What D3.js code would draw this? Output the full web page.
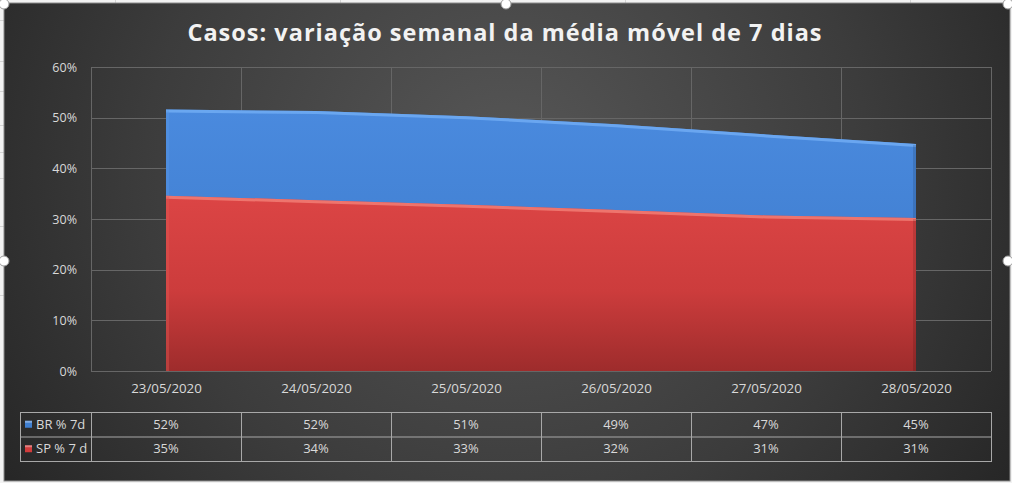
<!DOCTYPE html>
<html><head><meta charset="utf-8">
<script src="https://cdn.jsdelivr.net/npm/d3@7"></script>
<style>
html,body{margin:0;padding:0;background:#e8e8e8;overflow:hidden}
svg{display:block}
</style></head>
<body>
<svg id="c" width="1012" height="483"></svg>
<script>
const categories = ["23/05/2020","24/05/2020","25/05/2020","26/05/2020","27/05/2020","28/05/2020"];
const brValues = [0.516, 0.513, 0.503, 0.487, 0.467, 0.448];
const spValues = [0.346, 0.337, 0.328, 0.318, 0.307, 0.302];
const brLabels = ["52%","52%","51%","49%","47%","45%"];
const spLabels = ["35%","34%","33%","32%","31%","31%"];
const yTicks = [0,0.1,0.2,0.3,0.4,0.5,0.6];
const seriesNames = ["BR % 7d","SP % 7 d"];
const title = "Casos: variação semanal da média móvel de 7 dias";

const svg = d3.select("#c");
const W = 1012, H = 483;
const defs = svg.append("defs");
const FONT = "'Open Sans',sans-serif";

// spreadsheet backdrop
svg.append("rect").attr("width",W).attr("height",H).attr("fill","#f2f2f2");
const sheet = svg.append("g").attr("stroke","#d4d4d4").attr("stroke-width",1);
[20,61,91,125,152,178,226,295].forEach(y=>sheet.append("line").attr("x1",0).attr("x2",4).attr("y1",y+0.5).attr("y2",y+0.5));
[115,340,625,910].forEach(x=>sheet.append("line").attr("x1",x+0.5).attr("x2",x+0.5).attr("y1",0).attr("y2",3));

// chart background
const rg = defs.append("radialGradient").attr("id","bg").attr("cx","50%").attr("cy","35%").attr("r","60%")
  .attr("gradientTransform","translate(0.5,0.35) scale(1,2) translate(-0.5,-0.35)");
rg.append("stop").attr("offset","0%").attr("stop-color","#575757");
rg.append("stop").attr("offset","60%").attr("stop-color","#3c3c3c");
rg.append("stop").attr("offset","100%").attr("stop-color","#262626");
svg.append("rect").attr("x",4).attr("y",3).attr("width",1006).attr("height",478)
  .attr("fill","url(#bg)").attr("stroke","#8a8a8a").attr("stroke-width",1);

const plot = {l:91, r:991, t:67, b:371};
const x = d3.scalePoint().domain(categories).range([plot.l,plot.r]).padding(0.5);
const xb = d3.scaleBand().domain(categories).range([plot.l,plot.r]);
const y = d3.scaleLinear().domain([0,0.6]).range([plot.b,plot.t]);

// gridlines
const grid = svg.append("g").attr("stroke","#666666").attr("stroke-width",1);
yTicks.forEach(t=>grid.append("line").attr("x1",plot.l).attr("x2",plot.r)
  .attr("y1",Math.round(y(t))+0.5).attr("y2",Math.round(y(t))+0.5));
categories.concat([null]).forEach((c,i)=>{
  const xx = c===null ? plot.r : xb(c);
  grid.append("line").attr("x1",Math.round(xx)+0.5).attr("x2",Math.round(xx)+0.5).attr("y1",plot.t).attr("y2",plot.b);
});

// y axis labels
const yAxis = d3.axisLeft(y).tickValues(yTicks).tickFormat(d3.format(".0%")).tickSize(0).tickPadding(14);
const ya = svg.append("g").attr("transform",`translate(${plot.l},0)`).call(yAxis);
ya.select(".domain").remove();
ya.selectAll("text").attr("fill","#d9d9d9").style("font-family",FONT).style("font-size","12.5px");

// x axis labels
const xAxis = d3.axisBottom(x).tickSize(0).tickPadding(13);
const xa = svg.append("g").attr("transform",`translate(0,${plot.b})`).call(xAxis);
xa.select(".domain").remove();
xa.selectAll("text").attr("fill","#d9d9d9").style("font-family",FONT).style("font-size","13.3px");

// gradients for areas
const gBlue = defs.append("linearGradient").attr("id","gb").attr("x1",0).attr("y1",0).attr("x2",0).attr("y2",1);
gBlue.append("stop").attr("offset","0%").attr("stop-color","#4a8ade");
gBlue.append("stop").attr("offset","100%").attr("stop-color","#3b78c8");
const gRed = defs.append("linearGradient").attr("id","gr").attr("gradientUnits","userSpaceOnUse")
  .attr("x1",0).attr("y1",y(0.35)).attr("x2",0).attr("y2",y(0));
gRed.append("stop").attr("offset","0%").attr("stop-color","#dc4545");
gRed.append("stop").attr("offset","55%").attr("stop-color","#cc3c3c");
gRed.append("stop").attr("offset","100%").attr("stop-color","#9e2c2c");

function drawArea(vals, fill, edgeTop, edgeLeft){
  const data = categories.map((c,i)=>({c, v: vals[i]}));
  const area = d3.area().x(d=>x(d.c)).y0(y(0)).y1(d=>y(d.v));
  svg.append("path").datum(data).attr("d",area).attr("fill",fill);
  const line = d3.line().x(d=>x(d.c)).y(d=>y(d.v)+1.5);
  svg.append("path").datum(data).attr("d",line).attr("fill","none").attr("stroke",edgeTop).attr("stroke-width",3).attr("opacity",0.9);
  // left bevel
  svg.append("line").attr("x1",x(categories[0])+1.5).attr("x2",x(categories[0])+1.5)
    .attr("y1",y(vals[0])+1).attr("y2",y(0)).attr("stroke",edgeLeft).attr("stroke-width",3).attr("opacity",0.4);
  // right shade
  const last = categories[categories.length-1];
  svg.append("line").attr("x1",x(last)-1.5).attr("x2",x(last)-1.5)
    .attr("y1",y(vals[vals.length-1])+1).attr("y2",y(0)).attr("stroke","#000").attr("stroke-width",3).attr("opacity",0.12);
}
drawArea(brValues,"url(#gb)","#6eaaf2","#5a98e6");
drawArea(spValues,"url(#gr)","#f07a72","#e05a55");

// data table
const tTop = 412, rowH = 24.5, tLeft = 20;
const tbl = svg.append("g");
const rows = [{name:seriesNames[0], labels:brLabels, color:"#3f7fd0"},{name:seriesNames[1], labels:spLabels, color:"#d23c3c"}];
const border = "#a8a8a8";
tbl.append("rect").attr("x",tLeft+0.5).attr("y",tTop+0.5).attr("width",plot.r-tLeft).attr("height",rowH*2)
  .attr("fill","none").attr("stroke",border);
tbl.append("line").attr("x1",tLeft).attr("x2",plot.r).attr("y1",tTop+rowH+0.5).attr("y2",tTop+rowH+0.5).attr("stroke",border);
categories.forEach(c=>{
  tbl.append("line").attr("x1",Math.round(xb(c))+0.5).attr("x2",Math.round(xb(c))+0.5)
    .attr("y1",tTop).attr("y2",tTop+rowH*2).attr("stroke",border);
});
rows.forEach((r,ri)=>{
  const cy = tTop + rowH*ri + rowH/2;
  tbl.append("rect").attr("x",25).attr("y",cy-3.5).attr("width",7).attr("height",7).attr("fill",r.color);
  tbl.append("rect").attr("x",25).attr("y",cy-3.5).attr("width",7).attr("height",2).attr("fill","#ffffff").attr("opacity",0.35);
  tbl.append("text").attr("x",36).attr("y",cy).attr("dy","0.35em").text(r.name)
    .attr("fill","#d9d9d9").style("font-family",FONT).style("font-size","13px");
  categories.forEach((c,i)=>{
    tbl.append("text").attr("x",x(c)).attr("y",cy).attr("dy","0.35em").attr("text-anchor","middle")
      .text(r.labels[i]).attr("fill","#d9d9d9").style("font-family",FONT).style("font-size","13px");
  });
});

// title
svg.append("text").attr("x",505).attr("y",41).attr("text-anchor","middle").text(title)
  .attr("fill","#f2f2f2").style("font-family",FONT).style("font-weight","bold")
  .style("font-size","23.5px").style("letter-spacing","1px");

// selection handles
[[4,4],[506,4],[1008,4],[4,261],[1008,261]].forEach(([hx,hy])=>{
  svg.append("circle").attr("cx",hx).attr("cy",hy).attr("r",5).attr("fill","#ffffff").attr("stroke","#9a9a9a").attr("stroke-width",1);
});
</script>
</body></html>
